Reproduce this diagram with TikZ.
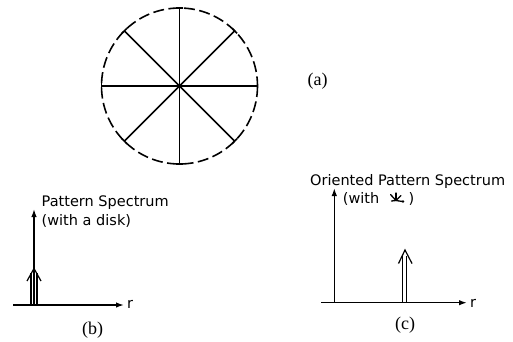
\documentclass[tikz,border=0pt]{standalone}
\usepackage{fontspec}
\setmainfont{Liberation Serif}
\newfontfamily\plotfont{DejaVu Sans}
\usetikzlibrary{arrows.meta,calc}
\tikzset{
  spoke/.style={line width=1.6pt},
  axisline/.style={line width=1.5pt,-{Latex[length=8pt,width=5.5pt]}},
  spikeline/.style={line width=1.2pt},
  plottext/.style={font=\plotfont\fontsize{14.5}{16}\selectfont,inner sep=0pt},
  caption/.style={font=\fontsize{18}{20}\selectfont,inner sep=0pt}
}
\begin{document}
\begin{tikzpicture}[x=1pt,y=-1pt]
\useasboundingbox (0,0) rectangle (513,341);
% (a) circle with spokes
\coordinate (c) at (179.5,86);
\draw[line width=1.6pt,dash pattern=on 11pt off 4.5pt] (c) circle[radius=78];
\foreach \a in {0,45,...,315}{
  \draw[spoke] (c) -- ++(\a:78) coordinate (tip)
    ++(\a+90:3.5) -- ++(\a-90:7);
}
\fill (c) circle[radius=2];
\node[caption] (la) at (317.5,81) {(a)};

% (b)
\coordinate (bo) at (34,305);
\coordinate (bx0) at (13,305);
\coordinate (bx1) at (124,305);
\coordinate (by1) at (34,209);
\draw[axisline] (bo) -- (by1);
\draw[axisline] (bx0) -- (bx1);
\node[plottext,anchor=base west] (br) at (127,308.5) {r};
\coordinate (bs) at (34,268.5);
\draw[spikeline] (31,305) -- (31,273);
\draw[spikeline] (37,305) -- (37,273);
\draw[spikeline,line join=miter] (27,281) -- (bs) -- (41,281);
\node[plottext,anchor=base west] (bt1) at (41.5,206.7) {Pattern Spectrum};
\node[plottext,anchor=base west] (bt2) at (41.5,225) {(with a disk)};
\node[caption] (lb) at (92.5,330.5) {(b)};

% (c)
\coordinate (co) at (334.3,302.7);
\coordinate (cx0) at (321,302.7);
\coordinate (cx1) at (467,302.7);
\coordinate (cy1) at (334.3,188);
\draw[axisline] (co) -- (cy1);
\draw[axisline] (cx0) -- (cx1);
\node[plottext,anchor=base west] (cr) at (470,307) {r};
\coordinate (cs) at (405,250);
\draw[spikeline] (402.3,302.7) -- (402.3,256);
\draw[spikeline] (406.7,302.7) -- (406.7,256);
\draw[spikeline,line join=miter] (398.5,263.5) -- (cs) -- (412,263.5);
\node[plottext,anchor=base west] (ct1) at (310,185) {Oriented Pattern Spectrum};
\node[plottext,anchor=base west] (ct2) at (342.7,203.3) {(with};
\node[plottext,anchor=base west] (ct3) at (408.5,203.3) {)};
\node[caption] (lc) at (405,325.5) {(c)};
% small oriented structuring-element symbol
\coordinate (sym) at (396,200.5);
\draw[line width=1.3pt,line cap=round] (sym) -- (390.5,194.5);
\draw[line width=1.3pt,line cap=round] (sym) -- (396,193);
\draw[line width=1.3pt,line cap=round] (sym) -- (401,195.5);
\draw[line width=1.3pt,line cap=round] (391.5,201) -- (sym) -- (402.5,201.5);
\fill (403,201.5) circle[radius=1.3];
\end{tikzpicture}
\end{document}
